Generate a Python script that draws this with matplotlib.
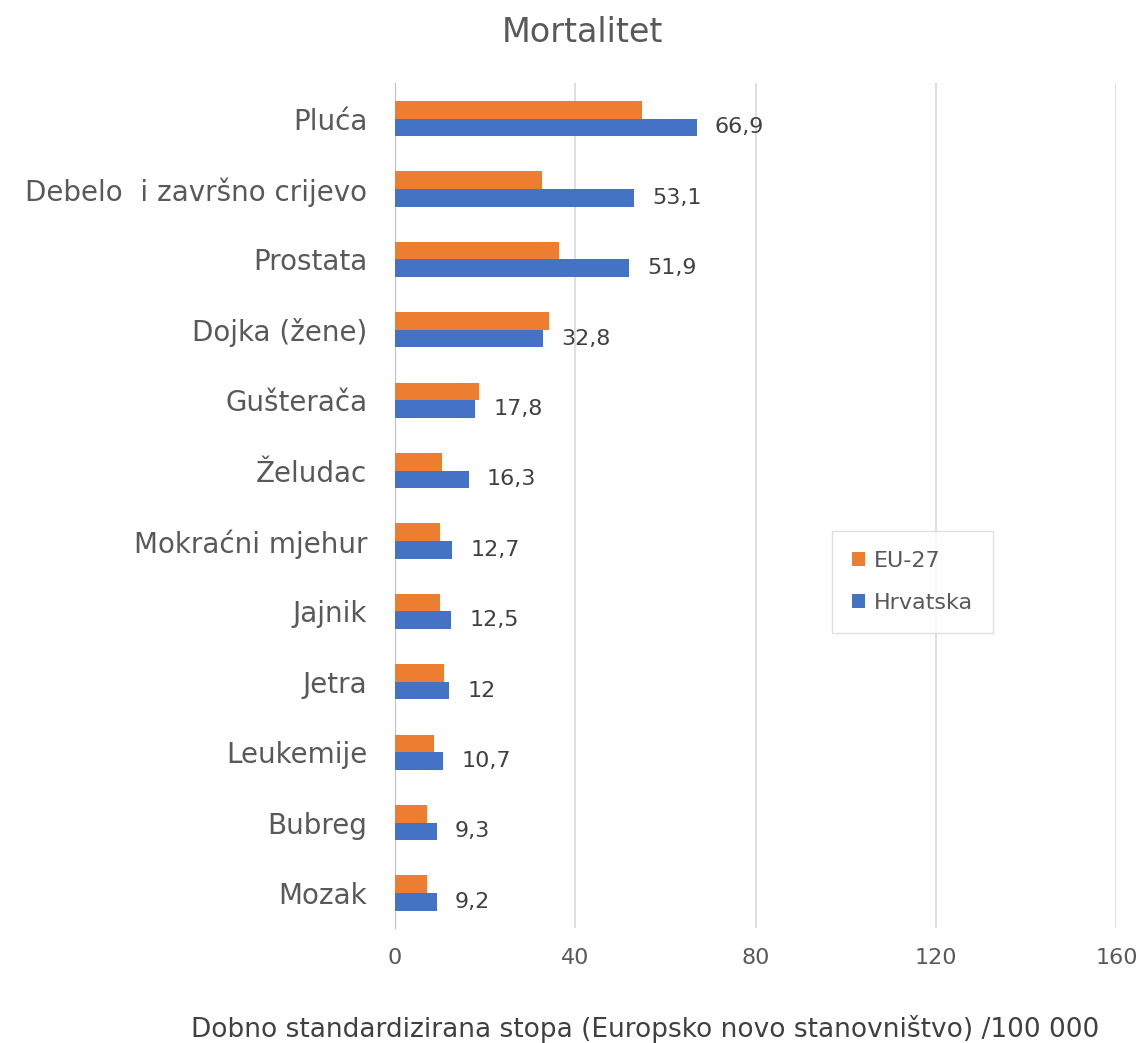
import matplotlib.pyplot as plt
import numpy as np

# data
sijela = ['Pluća', 'Debelo  i završno crijevo', 'Prostata', 'Dojka (žene)', 'Gušterača',
          'Želudac', 'Mokraćni mjehur', 'Jajnik', 'Jetra', 'Leukemije', 'Bubreg', 'Mozak']
hrvatska = [66.9, 53.1, 51.9, 32.8, 17.8, 16.3, 12.7, 12.5, 12, 10.7, 9.3, 9.2]
eu27 = [54.7, 32.5, 36.3, 34.1, 18.7, 10.4, 9.9, 9.9, 10.9, 8.7, 7.0, 7.0]
hrv_labels = ['66,9', '53,1', '51,9', '32,8', '17,8', '16,3', '12,7', '12,5', '12', '10,7', '9,3', '9,2']
x_ticks = [0, 40, 80, 120, 160]

plt.rcParams['font.family'] = ['DejaVu Sans']
txt = '#595959'

fig = plt.figure(figsize=(11.45, 10.43), dpi=100)
ax = fig.add_axes([0.345, 0.110, 0.630, 0.810])

y = np.arange(len(sijela))
h = 0.25
ax.barh(y - h / 2, eu27, height=h, color='#ED7D31', label='EU-27', zorder=3)
ax.barh(y + h / 2, hrvatska, height=h, color='#4472C4', label='Hrvatska', zorder=3)

for yi, v, lab in zip(y, hrvatska, hrv_labels):
    ax.text(v + 4, yi + h / 2, lab, va='center', ha='left', fontsize=16, color='#404040')

ax.set_ylim(len(sijela) - 0.5, -0.5)
ax.set_yticks(y)
ax.set_yticklabels(sijela, fontsize=20, color=txt)
ax.set_xlim(0, 160)
ax.set_xticks(x_ticks)
ax.set_xticklabels([str(t) for t in x_ticks], fontsize=16, color=txt)
ax.tick_params(length=0)
ax.tick_params(axis='x', pad=14)
ax.tick_params(axis='y', pad=20)
ax.grid(axis='x', color='#D9D9D9', linewidth=1.2, zorder=0)
for s in ['top', 'right', 'bottom']:
    ax.spines[s].set_visible(False)
ax.spines['left'].set_color('#BFBFBF')

fig.text(0.563, 0.0135, 'Dobno standardizirana stopa (Europsko novo stanovništvo) /100 000',
         fontsize=19, color='#404040', ha='center', va='center')
fig.text(0.509, 0.969, 'Mortalitet', fontsize=24, color=txt, ha='center', va='center')

leg = fig.legend(loc='center', bbox_to_anchor=(0.797, 0.442), fontsize=16,
                 frameon=True, fancybox=False, edgecolor='#D9D9D9',
                 handlelength=0.6, handleheight=0.6, labelspacing=1.0,
                 borderpad=0.9, handletextpad=0.4)
for t in leg.get_texts():
    t.set_color(txt)

plt.savefig('out.png', dpi=100)
